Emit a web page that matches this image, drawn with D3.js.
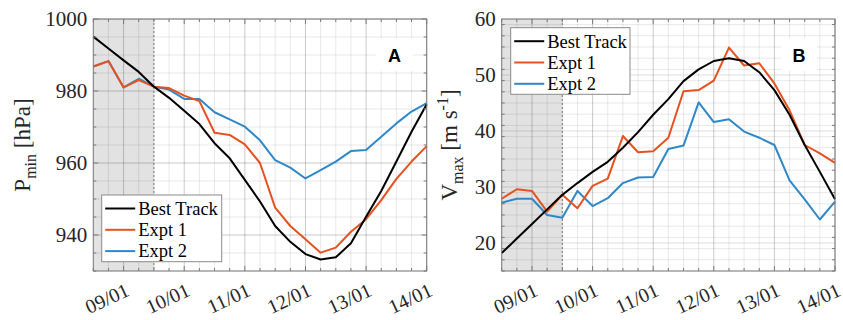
<!DOCTYPE html>
<html><head><meta charset="utf-8">
<script src="https://cdn.jsdelivr.net/npm/d3@7"></script>
<style>body{margin:0;background:#fff}</style>
</head><body><svg id="c" width="843" height="320"></svg>
<script>
// ---------- DATA ----------
const times = ["2000-01-08T12:00Z","2000-01-08T18:00Z","2000-01-09T00:00Z","2000-01-09T06:00Z","2000-01-09T12:00Z",
  "2000-01-09T18:00Z","2000-01-10T00:00Z","2000-01-10T06:00Z","2000-01-10T12:00Z","2000-01-10T18:00Z",
  "2000-01-11T00:00Z","2000-01-11T06:00Z","2000-01-11T12:00Z","2000-01-11T18:00Z","2000-01-12T00:00Z",
  "2000-01-12T06:00Z","2000-01-12T12:00Z","2000-01-12T18:00Z","2000-01-13T00:00Z","2000-01-13T06:00Z",
  "2000-01-13T12:00Z","2000-01-13T18:00Z","2000-01-14T00:00Z"];
const seriesNames = ["Best Track", "Expt 1", "Expt 2"];
const pminBest = [995.1, 991.8, 988.5, 985.3, 981.2, 978.1, 974.5, 970.8, 965.5, 961.3, 955.3, 949.3, 942.5, 938.1, 934.7, 933.2, 933.8, 937.7, 945.1, 952.2, 960.4, 968.7, 976.3];
const pminExpt1 = [986.8, 988.3, 981.0, 983.0, 981.2, 980.8, 978.7, 977.2, 968.4, 967.8, 965.2, 960.0, 947.6, 942.5, 938.8, 935.1, 936.5, 940.9, 944.4, 949.7, 955.6, 960.4, 964.7];
const pminExpt2 = [986.8, 988.3, 981.0, 983.4, 981.2, 980.4, 977.8, 977.8, 974.1, 972.1, 970.1, 966.3, 960.8, 958.7, 955.7, 958.0, 960.4, 963.3, 963.6, 967.3, 971.0, 974.3, 976.6];
const vmaxBest = [18.2, 20.8, 23.4, 26.0, 28.6, 30.7, 32.7, 34.5, 37.0, 39.8, 42.9, 45.7, 48.9, 51.0, 52.5, 53.0, 52.5, 50.5, 47.3, 42.9, 37.5, 32.7, 27.8];
const vmaxExpt1 = [27.9, 29.6, 29.3, 25.6, 28.6, 26.2, 30.2, 31.5, 39.1, 36.2, 36.4, 38.8, 47.1, 47.3, 49.0, 54.9, 51.7, 52.1, 48.5, 43.7, 37.5, 36.0, 34.3];
const vmaxExpt2 = [27.2, 27.9, 27.9, 25.0, 24.5, 29.3, 26.6, 28.0, 30.7, 31.7, 31.8, 36.8, 37.4, 45.1, 41.6, 42.1, 39.9, 38.8, 37.5, 31.2, 27.8, 24.2, 27.4];
const xTickDates = ["2000-01-09T00:00Z","2000-01-10T00:00Z","2000-01-11T00:00Z","2000-01-12T00:00Z","2000-01-13T00:00Z","2000-01-14T00:00Z"];
const xTickLabels = ["09/01","10/01","11/01","12/01","13/01","14/01"];
const xDomain = ["2000-01-08T12:00Z","2000-01-14T00:00Z"];
const spinupEnd = "2000-01-09T12:00Z";
const pTicks = [940, 960, 980, 1000];
const vTicks = [20, 30, 40, 50, 60];

// ---------- STYLE ----------
const colors = ["#000000", "#E5521F", "#3088C8"];
const serif = "'Liberation Serif','Times New Roman',serif";
const svg = d3.select("#c");
const parse = s => new Date(s);

const panels = [
  {x0: 93.3, x1: 426.7, y0: 19, y1: 271, domain: [930, 1000], ticks: pTicks, minorStep: 5,
   series: [pminBest, pminExpt1, pminExpt2], letter: "A", letterX: 394.5,
   legend: {x: 101.7, y: 195, w: 120, h: 66.7},
   labelX: 30, label: ["P", "min", " [hPa]", null]},
  {x0: 501.7, x1: 835, y0: 19, y1: 271, domain: [15, 60], ticks: vTicks, minorStep: 2,
   series: [vmaxBest, vmaxExpt1, vmaxExpt2], letter: "B", letterX: 799,
   legend: {x: 510.7, y: 27.7, w: 119.3, h: 66.6},
   labelX: 457, label: ["V", "max", " [m s", "-1", "]"]}
];

panels.forEach(p => {
  const x = d3.scaleUtc().domain(xDomain.map(parse)).range([p.x0, p.x1]);
  const y = d3.scaleLinear().domain(p.domain).range([p.y1, p.y0]);
  const g = svg.append("g");

  g.append("rect").attr("x", x(parse(xDomain[0]))).attr("y", p.y0)
    .attr("width", x(parse(spinupEnd)) - x(parse(xDomain[0]))).attr("height", p.y1 - p.y0)
    .attr("fill", "#e2e2e2");

  const minorX = x.ticks(d3.utcHour.every(6));
  const minorY = d3.range(p.domain[0], p.domain[1] + 0.001, p.minorStep);
  g.selectAll(".mgx").data(minorX).enter().append("line")
    .attr("x1", d => x(d)).attr("x2", d => x(d)).attr("y1", p.y0).attr("y2", p.y1)
    .attr("stroke", "rgba(0,0,0,0.09)").attr("stroke-width", 1);
  g.selectAll(".mgy").data(minorY).enter().append("line")
    .attr("x1", p.x0).attr("x2", p.x1).attr("y1", d => y(d)).attr("y2", d => y(d))
    .attr("stroke", "rgba(0,0,0,0.09)").attr("stroke-width", 1);
  const majX = xTickDates.map(parse);
  g.selectAll(".gx").data(majX).enter().append("line")
    .attr("x1", d => x(d)).attr("x2", d => x(d)).attr("y1", p.y0).attr("y2", p.y1)
    .attr("stroke", "rgba(0,0,0,0.13)").attr("stroke-width", 1);
  g.selectAll(".gy").data(p.ticks).enter().append("line")
    .attr("x1", p.x0).attr("x2", p.x1).attr("y1", d => y(d)).attr("y2", d => y(d))
    .attr("stroke", "rgba(0,0,0,0.13)").attr("stroke-width", 1);

  g.append("line").attr("x1", x(parse(spinupEnd))).attr("x2", x(parse(spinupEnd)))
    .attr("y1", p.y0).attr("y2", p.y1).attr("stroke", "#777").attr("stroke-width", 1)
    .attr("stroke-dasharray", "2,2");

  const line = d3.line().x((d, i) => x(parse(times[i]))).y(d => y(d));
  [2, 1, 0].forEach(k => {
    g.append("path").datum(p.series[k]).attr("d", line).attr("fill", "none")
      .attr("stroke", colors[k]).attr("stroke-width", 2).attr("stroke-linejoin", "round");
  });

  const lx = p.letterX, ly = 55;
  g.append("rect").attr("x", lx - 18).attr("y", ly - 17).attr("width", 36).attr("height", 33).attr("fill", "#fff");
  g.append("text").attr("x", lx).attr("y", ly + 6.5).attr("text-anchor", "middle")
    .attr("font-family", "'Liberation Sans',Arial,sans-serif").attr("font-weight", "bold")
    .attr("font-size", 18).attr("fill", "#000").text(p.letter);

  const L = p.legend;
  const lg = g.append("g");
  lg.append("rect").attr("x", L.x).attr("y", L.y).attr("width", L.w).attr("height", L.h)
    .attr("fill", "#fff").attr("stroke", "#8a8a8a").attr("stroke-width", 1);
  seriesNames.forEach((n, k) => {
    const cy = L.y + 13.5 + k * 21.3;
    lg.append("line").attr("x1", L.x + 3.5).attr("x2", L.x + 33.5).attr("y1", cy).attr("y2", cy)
      .attr("stroke", colors[k]).attr("stroke-width", 2);
    lg.append("text").attr("x", L.x + 36.5).attr("y", cy + 6.3).attr("font-family", serif)
      .attr("font-size", 18.5).attr("fill", "#000").text(n);
  });

  const axc = "#7a7a7a";
  g.append("rect").attr("x", p.x0).attr("y", p.y0).attr("width", p.x1 - p.x0).attr("height", p.y1 - p.y0)
    .attr("fill", "none").attr("stroke", axc).attr("stroke-width", 1);
  minorX.forEach(d => {
    const isMaj = xTickDates.some(t => +parse(t) === +d);
    const len = isMaj ? 5 : 3;
    g.append("line").attr("x1", x(d)).attr("x2", x(d)).attr("y1", p.y1).attr("y2", p.y1 - len).attr("stroke", axc);
    g.append("line").attr("x1", x(d)).attr("x2", x(d)).attr("y1", p.y0).attr("y2", p.y0 + len).attr("stroke", axc);
  });
  minorY.forEach(d => {
    const isMaj = p.ticks.includes(d);
    const len = isMaj ? 5 : 3;
    g.append("line").attr("x1", p.x0).attr("x2", p.x0 + len).attr("y1", y(d)).attr("y2", y(d)).attr("stroke", axc);
    g.append("line").attr("x1", p.x1).attr("x2", p.x1 - len).attr("y1", y(d)).attr("y2", y(d)).attr("stroke", axc);
  });

  const yAxis = d3.axisLeft(y).tickValues(p.ticks).tickSize(0).tickPadding(6).tickFormat(d3.format("d"));
  const ya = g.append("g").attr("transform", `translate(${p.x0},0)`).call(yAxis);
  ya.select(".domain").remove();
  ya.selectAll("text").attr("font-family", serif).attr("font-size", 21).attr("fill", "#262626");

  xTickDates.forEach((t, i) => {
    const tx = x(parse(t));
    g.append("text").attr("transform", `translate(${tx + 7},${295}) rotate(-25)`)
      .attr("text-anchor", "end").attr("font-family", serif).attr("font-size", 20)
      .attr("fill", "#262626").text(xTickLabels[i]);
  });

  const yl = g.append("text").attr("transform", `translate(${p.labelX},${(p.y0 + p.y1) / 2}) rotate(-90)`)
    .attr("text-anchor", "middle").attr("font-family", serif).attr("font-size", 23).attr("fill", "#262626");
  yl.append("tspan").text(p.label[0]);
  yl.append("tspan").attr("font-size", 16).attr("dy", 6).text(p.label[1]);
  yl.append("tspan").attr("dy", -6).text(p.label[2]);
  if (p.label[3]) {
    yl.append("tspan").attr("font-size", 16).attr("dy", -9).text(p.label[3]);
    yl.append("tspan").attr("dy", 9).text(p.label[4]);
  }
});
</script>
</body></html>
